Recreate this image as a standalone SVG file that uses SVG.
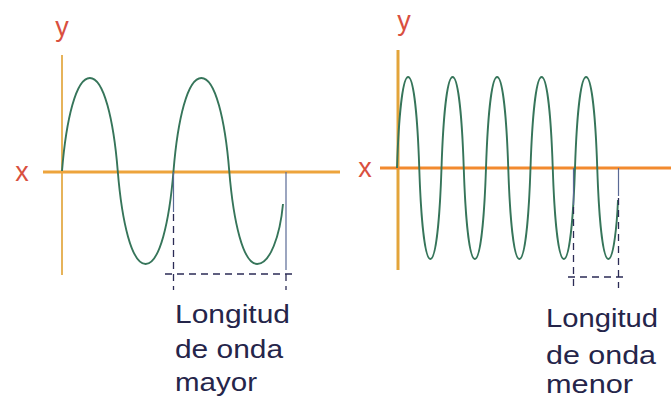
<svg xmlns="http://www.w3.org/2000/svg" width="671" height="409" viewBox="0 0 671 409">
<style>
.wave{fill:none;stroke:#36755A;stroke-width:1.9;stroke-linejoin:round}
.lbl{font-family:"Liberation Sans",Arial,sans-serif;font-size:27px;fill:#D9503F}
.cap{font-family:"Liberation Sans",Arial,sans-serif;font-size:26px;fill:#25254A}
.dash{stroke:#2B2B55;stroke-width:1.3;stroke-dasharray:7,5;fill:none}
.ref{stroke:#5A6A95;stroke-width:1.2;fill:none}
</style>
<rect width="671" height="409" fill="#ffffff"/>
<g id="left-plot">
  <line x1="62" y1="55" x2="62" y2="275" stroke="#E6B35A" stroke-width="2"/>
  <line x1="43" y1="172" x2="340" y2="172" stroke="#EDA43C" stroke-width="3"/>
  <text class="lbl" x="62" y="36" text-anchor="middle">y</text>
  <text class="lbl" x="22" y="181" text-anchor="middle">x</text>
  <path class="wave" d="M62,171 C66.18,119.85 75.94,78 89.875,78 S113.57,119.85 117.75,171 S131.69,264 145.625,264 S169.32,222.15 173.5,171 S187.44,78 201.375,78 S225.07,119.85 229.25,171 S243.19,264 257.125,264 C270,264 280,236 283,204"/>
</g>
<g id="right-plot">
  <line x1="398" y1="50" x2="398" y2="270" stroke="#E3A43A" stroke-width="3"/>
  <line x1="380" y1="168" x2="671" y2="168" stroke="#F28A2E" stroke-width="3"/>
  <text class="lbl" x="404" y="30" text-anchor="middle">y</text>
  <text class="lbl" x="365" y="177" text-anchor="middle">x</text>
  <path class="wave" d="M397,168 C398.67,117.95 402.56,77 408.125,77 S417.58,117.95 419.25,168 S424.81,259 430.375,259 S439.83,218.05 441.5,168 S447.06,77 452.625,77 S462.08,117.95 463.75,168 S469.31,259 474.875,259 S484.33,218.05 486,168 S491.56,77 497.125,77 S506.58,117.95 508.25,168 S513.81,259 519.375,259 S528.83,218.05 530.5,168 S536.06,77 541.625,77 S551.08,117.95 552.75,168 S558.31,259 563.875,259 S573.33,218.05 575,168 S580.56,77 586.125,77 S595.58,117.95 597.25,168 S602.81,259 608.375,259 C613.5,259 617,225 618,200"/>
</g>
<g id="connectors">
  <line class="ref" x1="173.5" y1="172" x2="173.5" y2="212" stroke="#3A5A9A"/>
  <line class="dash" x1="173.5" y1="214" x2="173.5" y2="290"/>
  <line class="ref" x1="286" y1="172" x2="286" y2="270"/>
  <line class="dash" x1="286" y1="274" x2="286" y2="290"/>
  <line class="dash" x1="165" y1="274" x2="296" y2="274"/>
  <line class="ref" x1="573.5" y1="168" x2="573.5" y2="205"/>
  <line class="dash" x1="573.5" y1="207" x2="573.5" y2="288"/>
  <line class="ref" x1="618.5" y1="168" x2="618.5" y2="196"/>
  <line class="dash" x1="618.5" y1="198" x2="618.5" y2="288"/>
  <line class="dash" x1="568" y1="277" x2="628" y2="277"/>
</g>
<g id="label-mayor">
  <text class="cap" x="175" y="323" textLength="115" lengthAdjust="spacingAndGlyphs">Longitud</text>
  <text class="cap" x="175" y="358" textLength="108" lengthAdjust="spacingAndGlyphs">de onda</text>
  <text class="cap" x="175" y="391" textLength="82" lengthAdjust="spacingAndGlyphs">mayor</text>
</g>
<g id="label-menor">
  <text class="cap" x="546" y="327" textLength="112" lengthAdjust="spacingAndGlyphs">Longitud</text>
  <text class="cap" x="546" y="364" textLength="110" lengthAdjust="spacingAndGlyphs">de onda</text>
  <text class="cap" x="546" y="393" textLength="87" lengthAdjust="spacingAndGlyphs">menor</text>
</g>
</svg>
